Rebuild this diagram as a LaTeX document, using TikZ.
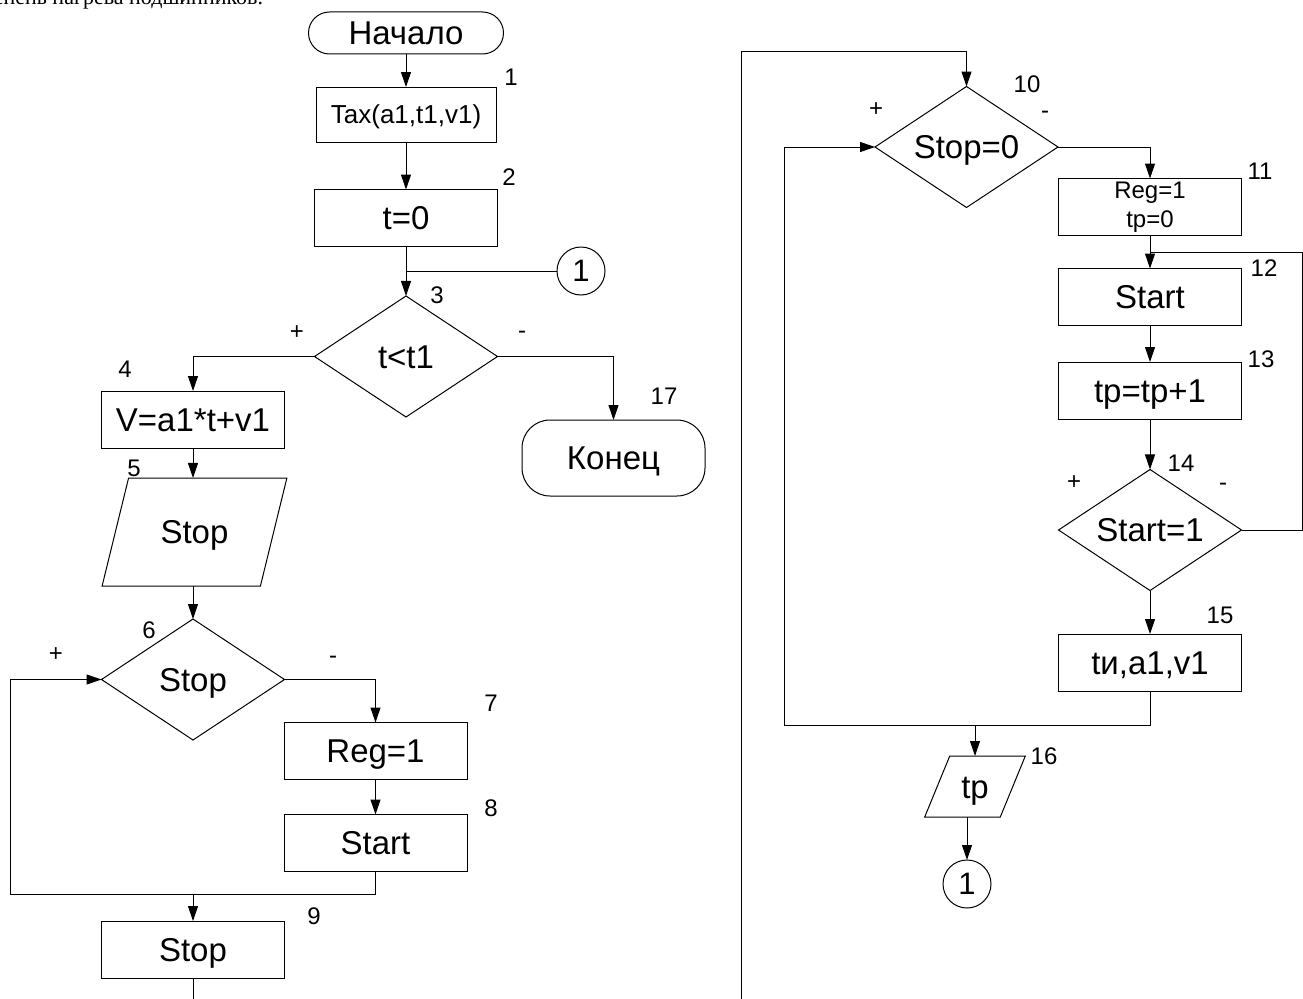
\documentclass[tikz,border=0pt]{standalone}
\usepackage{fontspec}
\setmainfont{Liberation Sans}
\newfontfamily\rmru{Liberation Serif}
\usetikzlibrary{arrows.meta,shapes.geometric}
\begin{document}
\begin{tikzpicture}[x=1pt,y=-1pt,line width=1pt,
  every node/.style={inner sep=0pt,outer sep=0pt},
  arr/.style={-{Triangle[length=15pt,width=10pt]}},
  big/.style={font=\fontsize{33}{38}\selectfont, text height=23.6pt, text depth=0pt},
  stepbox/.style={draw,rectangle,big,minimum width=183pt,minimum height=57pt},
  term/.style={draw,rectangle,big,rounded corners=#1},
  dec/.style={draw,diamond,big,minimum width=183pt,minimum height=121pt,aspect=1.5},
  io/.style={draw,trapezium,trapezium left angle=60,trapezium right angle=120,trapezium stretches=true,big},
  conn/.style={draw,circle,minimum size=48pt,font=\fontsize{31}{34}\selectfont},
  num/.style={font=\fontsize{24}{28}\selectfont, text height=17pt, text depth=0pt},
]
\useasboundingbox (0,0) rectangle (1303,998);
\clip (0,0) rectangle (1303,998);
\fill[white] (0,0) rectangle (1303,998);

% clipped text line at the top
\node[anchor=base east, font=\rmru\fontsize{22}{25}\selectfont] (hdr) at (263,5) {степень нагрева подшипников.};

% left column
\node[term=21pt, minimum width=195pt, minimum height=42pt] (start) at (406,33) {Начало};
\node[stepbox, minimum width=180pt, minimum height=55pt, font=\fontsize{26}{30}\selectfont, text height=18.6pt] (b1) at (406,114.5) {Tax(a1,t1,v1)};
\node[stepbox] (b2) at (406,218) {t=0};
\node[dec] (d3) at (406,356.5) {t<t1};
\node[conn] (c1) at (581,271) {1};
\node[term=28pt, minimum width=183pt, minimum height=76pt] (end) at (613.5,458) {Конец};
\node[stepbox] (b4) at (193,419.5) {V=a1*t+v1};
\node[io, minimum width=185pt, minimum height=108pt] (p5) at (194.5,532) {Stop};
\node[dec] (d6) at (193,679.5) {Stop};
\node[stepbox] (b7) at (375.5,751) {Reg=1};
\node[stepbox] (b8) at (375.5,843) {Start};
\node[stepbox] (b9) at (193,949.5) {Stop};

% right column
\node[dec] (d10) at (966.5,147) {Stop=0};
\node[draw, rectangle, minimum width=183pt, minimum height=57pt, align=center, font=\fontsize{24}{29}\selectfont] (b11) at (1150,207) {Reg=1\\tp=0};
\node[stepbox] (b12) at (1150,297) {Start};
\node[stepbox] (b13) at (1150,390.5) {tp=tp+1};
\node[dec] (d14) at (1150,530) {Start=1};
\node[stepbox] (b15) at (1150,662.5) {tи,a1,v1};
\node[io, minimum width=101pt, minimum height=61pt] (p16) at (975,786.5) {tp};
\node[conn] (c2) at (967,884) {1};

% free ends and bends
\coordinate (l1) at (10,894);
\coordinate (j1) at (193,894);
\coordinate (e1) at (193,1000);
\coordinate (e2) at (741,1000);
\coordinate (t1) at (741,52);
\coordinate (r1) at (1302,252);
\coordinate (l2) at (784,725);

% connectors, left
\draw[arr] (start) -- (b1);
\draw[arr] (b1) -- (b2);
\draw[arr] (b2) -- (d3);
\draw (c1) -- (c1 -| d3.north);
\draw[arr] (d3.west) -| (b4.north);
\draw[arr] (d3.east) -| (end.north);
\draw[arr] (b4.south) -- (b4.south |- p5.north);
\draw[arr] (d6.north |- p5.south) -- (d6.north);
\draw[arr] (d6.east) -| (b7.north);
\draw[arr] (b7) -- (b8);
\draw[arr] (b8.south) |- (l1) |- (d6.west);
\draw[arr] (j1) -- (b9.north);
\draw (b9.south) -- (e1);

% connectors, right
\draw[arr] (e2) -- (t1) -| (d10.north);
\draw[arr] (d10.east) -| (b11.north);
\draw[arr] (b11) -- (b12);
\draw (d14.east) -| (r1) -- (r1 -| b12.north);
\draw[arr] (b12) -- (b13);
\draw[arr] (b13) -- (d14);
\draw[arr] (d14) -- (b15);
\draw[arr] (b15.south) |- (l2) |- (d10.west);
\draw[arr] (l2 -| p16.north) -- (p16.north);
\draw[arr] (c2 |- p16.south) -- (c2);

% block numbers
\node[num] (n1) at (511,77) {1};
\node[num] (n2) at (509,177) {2};
\node[num] (n3) at (437,295) {3};
\node[num] (n4) at (125,369) {4};
\node[num] (n5) at (134,468) {5};
\node[num] (n6) at (149,630) {6};
\node[num] (n7) at (491,703) {7};
\node[num] (n8) at (491,808) {8};
\node[num] (n9) at (314,916) {9};
\node[num] (n10) at (1027,84) {10};
\node[num] (n11) at (1260,171) {11};
\node[num] (n12) at (1264,268) {12};
\node[num] (n13) at (1261,359) {13};
\node[num] (n14) at (1181,463) {14};
\node[num] (n15) at (1220,615) {15};
\node[num] (n16) at (1044,756) {16};
\node[num] (n17) at (664,396) {17};

% branch signs
\node[num] (s3p) at (297,331) {+};
\node[num] (s3m) at (522,330) {-};
\node[num] (s6p) at (56,653) {+};
\node[num] (s6m) at (333,655) {-};
\node[num] (s10p) at (876,108) {+};
\node[num] (s10m) at (1045,110) {-};
\node[num] (s14p) at (1074,481) {+};
\node[num] (s14m) at (1223,482) {-};
\end{tikzpicture}
\end{document}
